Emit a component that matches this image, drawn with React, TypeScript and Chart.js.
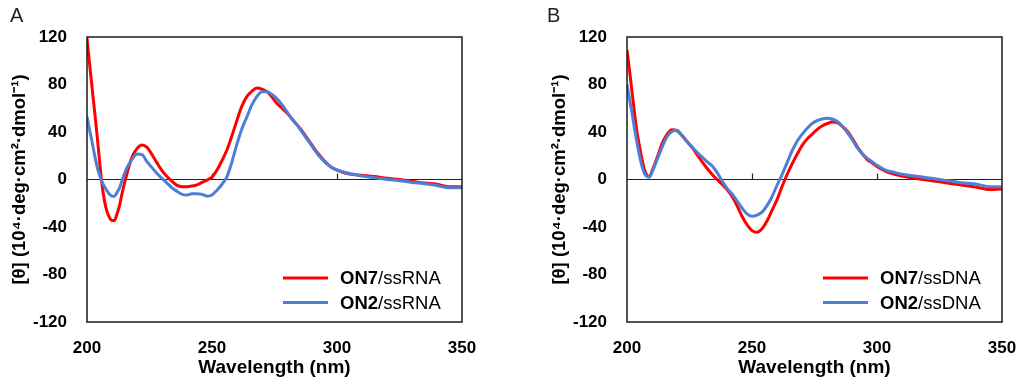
import React, { useEffect, useRef } from 'react';
import { Chart, registerables } from 'chart.js';
Chart.register(...registerables);

// ---------- DATA ----------
const wavelengthsA = [
  200, 201, 202, 203, 204, 205, 206, 207, 208, 209, 210, 211, 212, 213, 214, 215, 216,
  218, 220, 222, 224, 226, 228, 230, 232, 234, 236, 238, 240, 242, 244, 246, 248, 250,
  252, 254, 256, 258, 260, 262, 264, 266, 268, 270, 272, 274, 276, 278, 280, 282, 284,
  286, 288, 290, 292, 294, 296, 298, 300, 305, 310, 315, 320, 325, 330, 335, 340, 345, 350,
];
const on7RnaValues = [
  119, 98, 78, 58, 38, 16, -4, -18, -27, -32, -34.5, -34.5, -29, -22, -12, -3, 5,
  19, 26, 29, 27, 21, 14, 7.5, 2.5, -1.5, -5, -6, -6, -5.5, -4.5, -2.5, -0.5, 2,
  8, 16, 25, 37, 50, 62, 70, 74.5, 77, 76, 74, 69.5, 64, 60, 56, 51, 46,
  41, 35, 29, 23, 18, 13.5, 10, 8, 4.5, 3.5, 2.5, 1, 0, -1.5, -3, -4, -6, -6,
];
const on2RnaValues = [
  53, 42, 32, 21, 11, 4, -2, -6, -9.5, -12.5, -14, -14, -11, -7, -1, 5, 10,
  17, 21.5, 21, 15, 10, 5, 1, -3, -7, -10, -12.5, -13, -12, -12, -12.5, -14, -13,
  -9, -4, 2.5, 15, 30, 43, 53, 63, 70, 74, 74, 71.5, 68, 63, 57, 51, 46,
  40, 34, 28, 22, 17, 13, 10, 8, 5, 3, 1.5, 0, -1, -2.5, -3.5, -5, -7, -7,
];

const wavelengthsB = [
  200, 201, 202, 203, 204, 205, 206, 207, 208, 209, 210,
  212, 214, 216, 218, 220, 222, 224, 226, 228, 230, 232, 234, 236, 238, 240, 242, 244,
  246, 248, 250, 252, 254, 256, 258, 260, 262, 264, 266, 268, 270, 272, 274, 276, 278,
  280, 282, 284, 286, 288, 290, 292, 294, 296, 298, 300, 302, 304, 306,
  310, 315, 320, 325, 330, 335, 340, 345, 350,
];
const on7DnaValues = [
  109, 92, 74, 56, 40, 28, 17, 8, 3.5, 2.5, 7,
  18, 30, 38, 42, 41, 37, 32, 27, 21, 15, 9.5, 4.5, 0, -4, -8.5, -14, -22,
  -31, -38, -43, -44.5, -41.5, -35, -26, -17, -6, 4, 13, 21, 28.5, 34, 38, 42, 45,
  47, 48.5, 48, 45, 41, 35, 28, 22, 17, 14, 11, 8.5, 6.5, 5,
  3, 1, -0.5, -2, -3.5, -5, -6.5, -8.5, -8,
];
const on2DnaValues = [
  80, 68, 56, 43, 31, 20, 11, 5, 2.5, 2, 6,
  16.5, 27, 36, 40.5, 41.5, 37, 32, 27.5, 23, 19, 15, 11.5, 6, -1, -7.5, -12, -18,
  -24, -29, -31, -30, -27.5, -22, -14.5, -5, 4, 14, 24, 32, 38, 43, 47, 49.5, 51,
  51.5, 51, 49, 45, 40, 34, 27, 22, 18, 15, 12, 9.5, 7.5, 6.5,
  4.5, 3, 1.5, 0, -1.5, -3, -4, -6, -6,
];

const xMin = 200;
const xMax = 350;
const xStep = 50;
const yMin = -120;
const yMax = 120;
const yStep = 40;

const RED = '#ff0000';
const BLUE = '#4d7fd6';
const FONT = '"Liberation Sans", Arial, sans-serif';

// ---------- PLUGIN ----------
const decorPlugin = {
  id: 'decor',
  beforeDatasetsDraw(chart: any) {
    const { ctx, chartArea: ca, scales } = chart;
    const y0 = scales.y.getPixelForValue(0);
    ctx.save();
    ctx.strokeStyle = '#222';
    ctx.lineWidth = 1.2;
    ctx.beginPath();
    ctx.moveTo(ca.left, y0);
    ctx.lineTo(ca.right, y0);
    for (const t of scales.x.ticks) {
      const x = Math.round(scales.x.getPixelForValue(t.value)) + 0.5;
      if (x > ca.left + 2 && x < ca.right - 2) {
        ctx.moveTo(x, y0);
        ctx.lineTo(x, y0 - 6);
      }
    }
    ctx.stroke();
    ctx.restore();
  },
  afterDraw(chart: any, _args: any, opts: any) {
    const { ctx, chartArea: ca } = chart;
    ctx.save();
    ctx.strokeStyle = '#1a1a1a';
    ctx.lineWidth = 1.5;
    ctx.strokeRect(ca.left, ca.top, ca.right - ca.left, ca.bottom - ca.top);

    // legend
    const entries = opts.entries || [];
    entries.forEach((e: any, i: number) => {
      const y = ca.bottom - 44 + i * 24.5;
      ctx.strokeStyle = e.color;
      ctx.lineWidth = 3;
      ctx.beginPath();
      ctx.moveTo(ca.right - 179, y);
      ctx.lineTo(ca.right - 134, y);
      ctx.stroke();
      ctx.fillStyle = '#000';
      ctx.textBaseline = 'middle';
      ctx.textAlign = 'left';
      let x = ca.right - 122;
      ctx.font = `bold 18.5px ${FONT}`;
      ctx.fillText(e.bold, x, y + 1);
      x += ctx.measureText(e.bold).width;
      ctx.font = `18.5px ${FONT}`;
      ctx.fillText(e.rest, x, y + 1);
    });

    // panel letter
    ctx.fillStyle = '#222';
    ctx.font = `20px ${FONT}`;
    ctx.textBaseline = 'alphabetic';
    ctx.textAlign = 'left';
    ctx.fillText(opts.letter, opts.letterX, 22);
    ctx.restore();
  },
};

// ---------- PANEL ----------
function Panel(props: {
  left: number;
  letter: string;
  letterX: number;
  wavelengths: number[];
  red: number[];
  blue: number[];
  redLabel: [string, string];
  blueLabel: [string, string];
}) {
  const ref = useRef<HTMLCanvasElement>(null);
  useEffect(() => {
    if (!ref.current) return;
    const toPts = (vals: number[]) => props.wavelengths.map((x, i) => ({ x, y: vals[i] }));
    const chart = new Chart(ref.current, {
      type: 'line',
      data: {
        datasets: [
          {
            label: props.redLabel.join(''),
            data: toPts(props.red),
            borderColor: RED,
            borderWidth: 3,
            pointRadius: 0,
            cubicInterpolationMode: 'monotone',
            order: 2,
          },
          {
            label: props.blueLabel.join(''),
            data: toPts(props.blue),
            borderColor: BLUE,
            borderWidth: 3,
            pointRadius: 0,
            cubicInterpolationMode: 'monotone',
            order: 1,
          },
        ],
      },
      options: {
        responsive: false,
        animation: false,
        layout: { padding: { top: 37, right: 22, left: 0, bottom: 0 } },
        scales: {
          x: {
            type: 'linear',
            min: xMin,
            max: xMax,
            grid: { display: false, drawTicks: false },
            border: { display: false },
            ticks: {
              stepSize: xStep,
              color: '#000',
              padding: 16,
              maxRotation: 0,
              font: { family: FONT, size: 17, weight: 'bold' },
            },
            title: {
              display: true,
              text: 'Wavelength (nm)',
              color: '#000',
              font: { family: FONT, size: 19, weight: 'bold' },
              padding: { top: 0, bottom: 4 },
            },
            afterFit: (s: any) => {
              s.height = 61;
              s.paddingLeft = 0;
              s.paddingRight = 0;
            },
          },
          y: {
            min: yMin,
            max: yMax,
            grid: { display: false, drawTicks: false },
            border: { display: false },
            ticks: {
              stepSize: yStep,
              color: '#000',
              padding: 20,
              font: { family: FONT, size: 17, weight: 'bold' },
            },
            title: {
              display: true,
              text: '[θ] (10⁴·deg·cm²·dmol⁻¹)',
              color: '#000',
              font: { family: FONT, size: 18.5, weight: 'bold' },
              padding: { top: 9, bottom: 0 },
            },
            afterFit: (s: any) => {
              s.width = 87;
              s.paddingTop = 0;
              s.paddingBottom = 0;
            },
          },
        },
        plugins: {
          legend: { display: false },
          tooltip: { enabled: false },
          decor: {
            letter: props.letter,
            letterX: props.letterX,
            entries: [
              { color: RED, bold: props.redLabel[0], rest: props.redLabel[1] },
              { color: BLUE, bold: props.blueLabel[0], rest: props.blueLabel[1] },
            ],
          },
        } as any,
      },
      plugins: [decorPlugin],
    } as any);
    return () => chart.destroy();
  }, []);
  return (
    <div style={{ position: 'absolute', left: props.left, top: 0, width: 484, height: 383 }}>
      <canvas ref={ref} width={484} height={383} style={{ width: 484, height: 383, display: 'block' }} />
    </div>
  );
}

export default function App() {
  return (
    <div style={{ position: 'absolute', left: 0, top: 0, width: 1024, height: 383, background: '#fff', overflow: 'hidden' }}>
      <Panel
        left={0}
        letter="A"
        letterX={10}
        wavelengths={wavelengthsA}
        red={on7RnaValues}
        blue={on2RnaValues}
        redLabel={['ON7', '/ssRNA']}
        blueLabel={['ON2', '/ssRNA']}
      />
      <Panel
        left={540}
        letter="B"
        letterX={7}
        wavelengths={wavelengthsB}
        red={on7DnaValues}
        blue={on2DnaValues}
        redLabel={['ON7', '/ssDNA']}
        blueLabel={['ON2', '/ssDNA']}
      />
    </div>
  );
}
